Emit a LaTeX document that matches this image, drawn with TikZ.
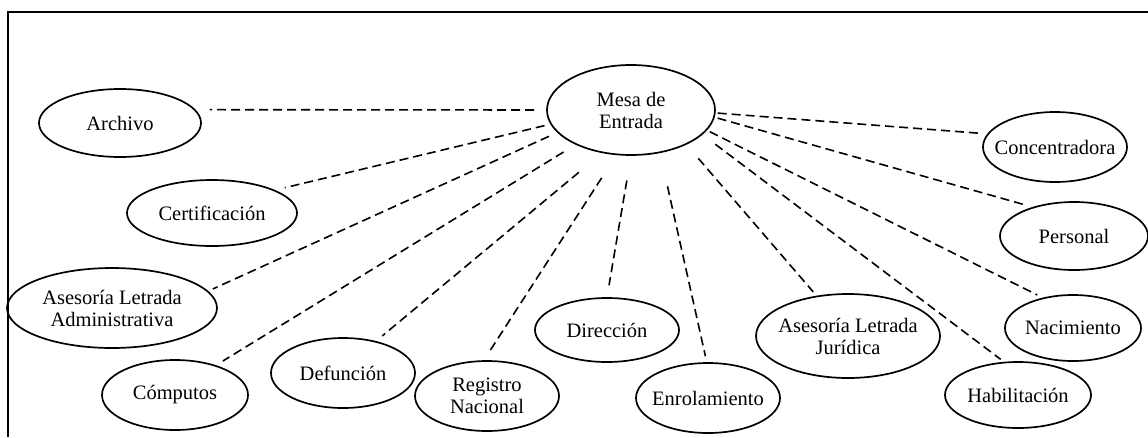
\documentclass[tikz,border=0pt]{standalone}
\usepackage{fontspec}
\setmainfont{Liberation Serif}
\usepackage{tikz}
\usetikzlibrary{shapes.geometric}
\tikzset{
  ofic/.style={ellipse, draw, line width=1.7pt, inner sep=0pt},
  txt/.style={align=center, inner sep=0pt, font=\fontsize{20.5}{22}\selectfont},
  link/.style={line width=1.6pt, dash pattern=on 9pt off 5pt},
  marco/.style={line width=2.6pt},
}
\begin{document}
\begin{tikzpicture}[x=1pt, y=-1pt]
  \useasboundingbox (0,0) rectangle (1148,437);
  % frame
  \draw[marco] (8,437) -- (8,12) -- (1148,12);
  % the hub
  \node[ofic, minimum width=168pt, minimum height=90pt,
        label={[txt]center:Mesa de\\Entrada}] (mesa) at (631,110) {};
  % left side
  \node[ofic, minimum width=162pt, minimum height=68pt,
        label={[txt]center:Archivo}] (archivo) at (120,123) {};
  \node[ofic, minimum width=170pt, minimum height=66pt,
        label={[txt]center:Certificación}] (certif) at (212,213) {};
  \node[ofic, minimum width=210pt, minimum height=80pt,
        label={[txt]center:Asesoría Letrada\\Administrativa}] (asesadm) at (112,308) {};
  \node[ofic, minimum width=146pt, minimum height=70pt,
        label={[txt]center:Cómputos}] (computos) at (175,395) {};
  % bottom row
  \node[ofic, minimum width=144pt, minimum height=70pt,
        label={[txt]center:Defunción}] (defuncion) at (343,373) {};
  \node[ofic, minimum width=144pt, minimum height=70pt,
        label={[txt]center:Registro\\Nacional}] (registro) at (487,396) {};
  \node[ofic, minimum width=144pt, minimum height=64pt,
        label={[txt]center:Dirección}] (direccion) at (607,330) {};
  \node[ofic, minimum width=144pt, minimum height=70pt,
        label={[txt]center:Enrolamiento}] (enrol) at (708,398) {};
  \node[ofic, minimum width=184pt, minimum height=84pt,
        label={[txt]center:Asesoría Letrada\\Jurídica}] (asesjur) at (848,336) {};
  \node[ofic, minimum width=146pt, minimum height=66pt,
        label={[txt]center:Habilitación}] (habil) at (1018,395) {};
  % right side
  \node[ofic, minimum width=136pt, minimum height=66pt,
        label={[txt]center:Nacimiento}] (nacim) at (1073,328) {};
  \node[ofic, minimum width=148pt, minimum height=68pt,
        label={[txt]center:Personal}] (personal) at (1074,236) {};
  \node[ofic, minimum width=144pt, minimum height=70pt,
        label={[txt]center:Concentradora}] (concent) at (1055,147) {};
  % dashed links
  \draw[link, shorten <=12pt, shorten >=14pt] (mesa.180) -- (archivo.10);
  \draw[link, shorten <=6pt, shorten >=10pt] (mesa.190) -- (certif.20);
  \draw[link, shorten <=9pt, shorten >=5pt] (mesa.197) -- (asesadm.10);
  \draw[link, shorten <=14pt, shorten >=8pt] (mesa.212) -- (computos.36);
  \draw[link, shorten <=30pt, shorten >=8pt] (mesa.236) -- (defuncion.44);
  \draw[link, shorten <=27pt, shorten >=10pt] (mesa.252) -- (registro.95);
  \draw[link, shorten <=25pt, shorten >=12pt] (mesa.270) -- (direccion.90);
  \draw[link, shorten <=34pt, shorten >=6pt] (mesa.304) -- (enrol.92);
  \draw[link, shorten <=18pt, shorten >=5pt] (mesa.328) -- (asesjur.128);
  \draw[link, shorten <=16pt, shorten >=4pt] (mesa.341) -- (habil.113);
  \draw[link, shorten <=3pt, shorten >=6pt] (mesa.345) -- (nacim.135);
  \draw[link, shorten <=3pt, shorten >=10pt] (mesa.355) -- (personal.145);
  \draw[link, shorten <=2pt, shorten >=5pt] (mesa.358) -- (concent.169);
\end{tikzpicture}
\end{document}
